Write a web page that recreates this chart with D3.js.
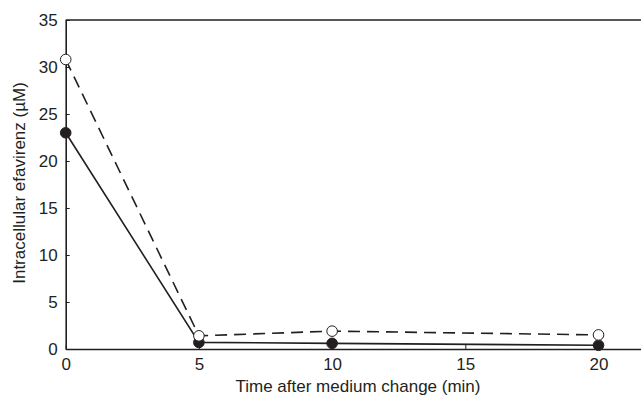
<!DOCTYPE html>
<html>
<head>
<meta charset="utf-8">
<script src="https://cdn.jsdelivr.net/npm/d3@7"></script>
<style>
  body { margin: 0; background: #fff; }
  text { font-family: "Liberation Sans", Arial, sans-serif; fill: #231f20; }
</style>
</head>
<body>
<div id="chart"></div>
<script>
var times = [0, 5, 10, 20];
var solidVals = [23.0, 0.7, 0.6, 0.4];
var dashedVals = [30.8, 1.4, 1.9, 1.5];
var xTicks = [0, 5, 10, 15, 20];
var yTicks = [0, 5, 10, 15, 20, 25, 30, 35];

var width = 641, height = 396;
var ink = "#231f20";

var svg = d3.select("#chart").append("svg")
    .attr("width", width)
    .attr("height", height);

var x = d3.scaleLinear().domain([0, 22]).range([65.7, 651.8]);
var y = d3.scaleLinear().domain([0, 35]).range([349, 20]);

// top frame line
svg.append("line")
    .attr("x1", x(0)).attr("x2", width)
    .attr("y1", y(35)).attr("y2", y(35))
    .attr("stroke", ink).attr("stroke-width", 1.6);

var xAxis = svg.append("g")
    .attr("transform", "translate(0," + y(0) + ")")
    .call(d3.axisBottom(x).tickValues(xTicks).tickSizeInner(-4).tickSizeOuter(0).tickPadding(9));
xAxis.select(".domain").attr("stroke", ink).attr("stroke-width", 1.6);
xAxis.selectAll(".tick line").attr("stroke", ink);
xAxis.selectAll("text").style("font-size", "17px").attr("fill", ink);

var yAxis = svg.append("g")
    .attr("transform", "translate(" + x(0) + ",0)")
    .call(d3.axisLeft(y).tickValues(yTicks).tickSizeInner(-4).tickSizeOuter(0).tickPadding(8));
yAxis.select(".domain").attr("stroke", ink).attr("stroke-width", 1.6);
yAxis.selectAll(".tick line").attr("stroke", ink);
yAxis.selectAll("text").style("font-size", "17px").attr("fill", ink);

svg.append("text")
    .attr("x", 358).attr("y", 392)
    .attr("text-anchor", "middle")
    .style("font-size", "17px")
    .text("Time after medium change (min)");

svg.append("text")
    .attr("transform", "translate(25,183) rotate(-90)")
    .attr("text-anchor", "middle")
    .style("font-size", "17px")
    .text("Intracellular efavirenz (\u00b5M)");

var line = d3.line().x(d => x(d[0])).y(d => y(d[1]));
var dashedPts = times.map((t, i) => [t, dashedVals[i]]);
var solidPts = times.map((t, i) => [t, solidVals[i]]);

svg.append("path").datum(dashedPts)
    .attr("d", line).attr("fill", "none")
    .attr("stroke", ink).attr("stroke-width", 1.6)
    .attr("stroke-dasharray", "12,7");

svg.append("path").datum(solidPts)
    .attr("d", line).attr("fill", "none")
    .attr("stroke", ink).attr("stroke-width", 1.6);

svg.selectAll(".solidpt").data(solidPts).enter().append("circle")
    .attr("cx", d => x(d[0])).attr("cy", d => y(d[1]))
    .attr("r", 5.3).attr("fill", ink).attr("stroke", ink).attr("stroke-width", 1);

svg.selectAll(".openpt").data(dashedPts).enter().append("circle")
    .attr("cx", d => x(d[0])).attr("cy", d => y(d[1]))
    .attr("r", 5.3).attr("fill", "#fff").attr("stroke", ink).attr("stroke-width", 1);
</script>
</body>
</html>
